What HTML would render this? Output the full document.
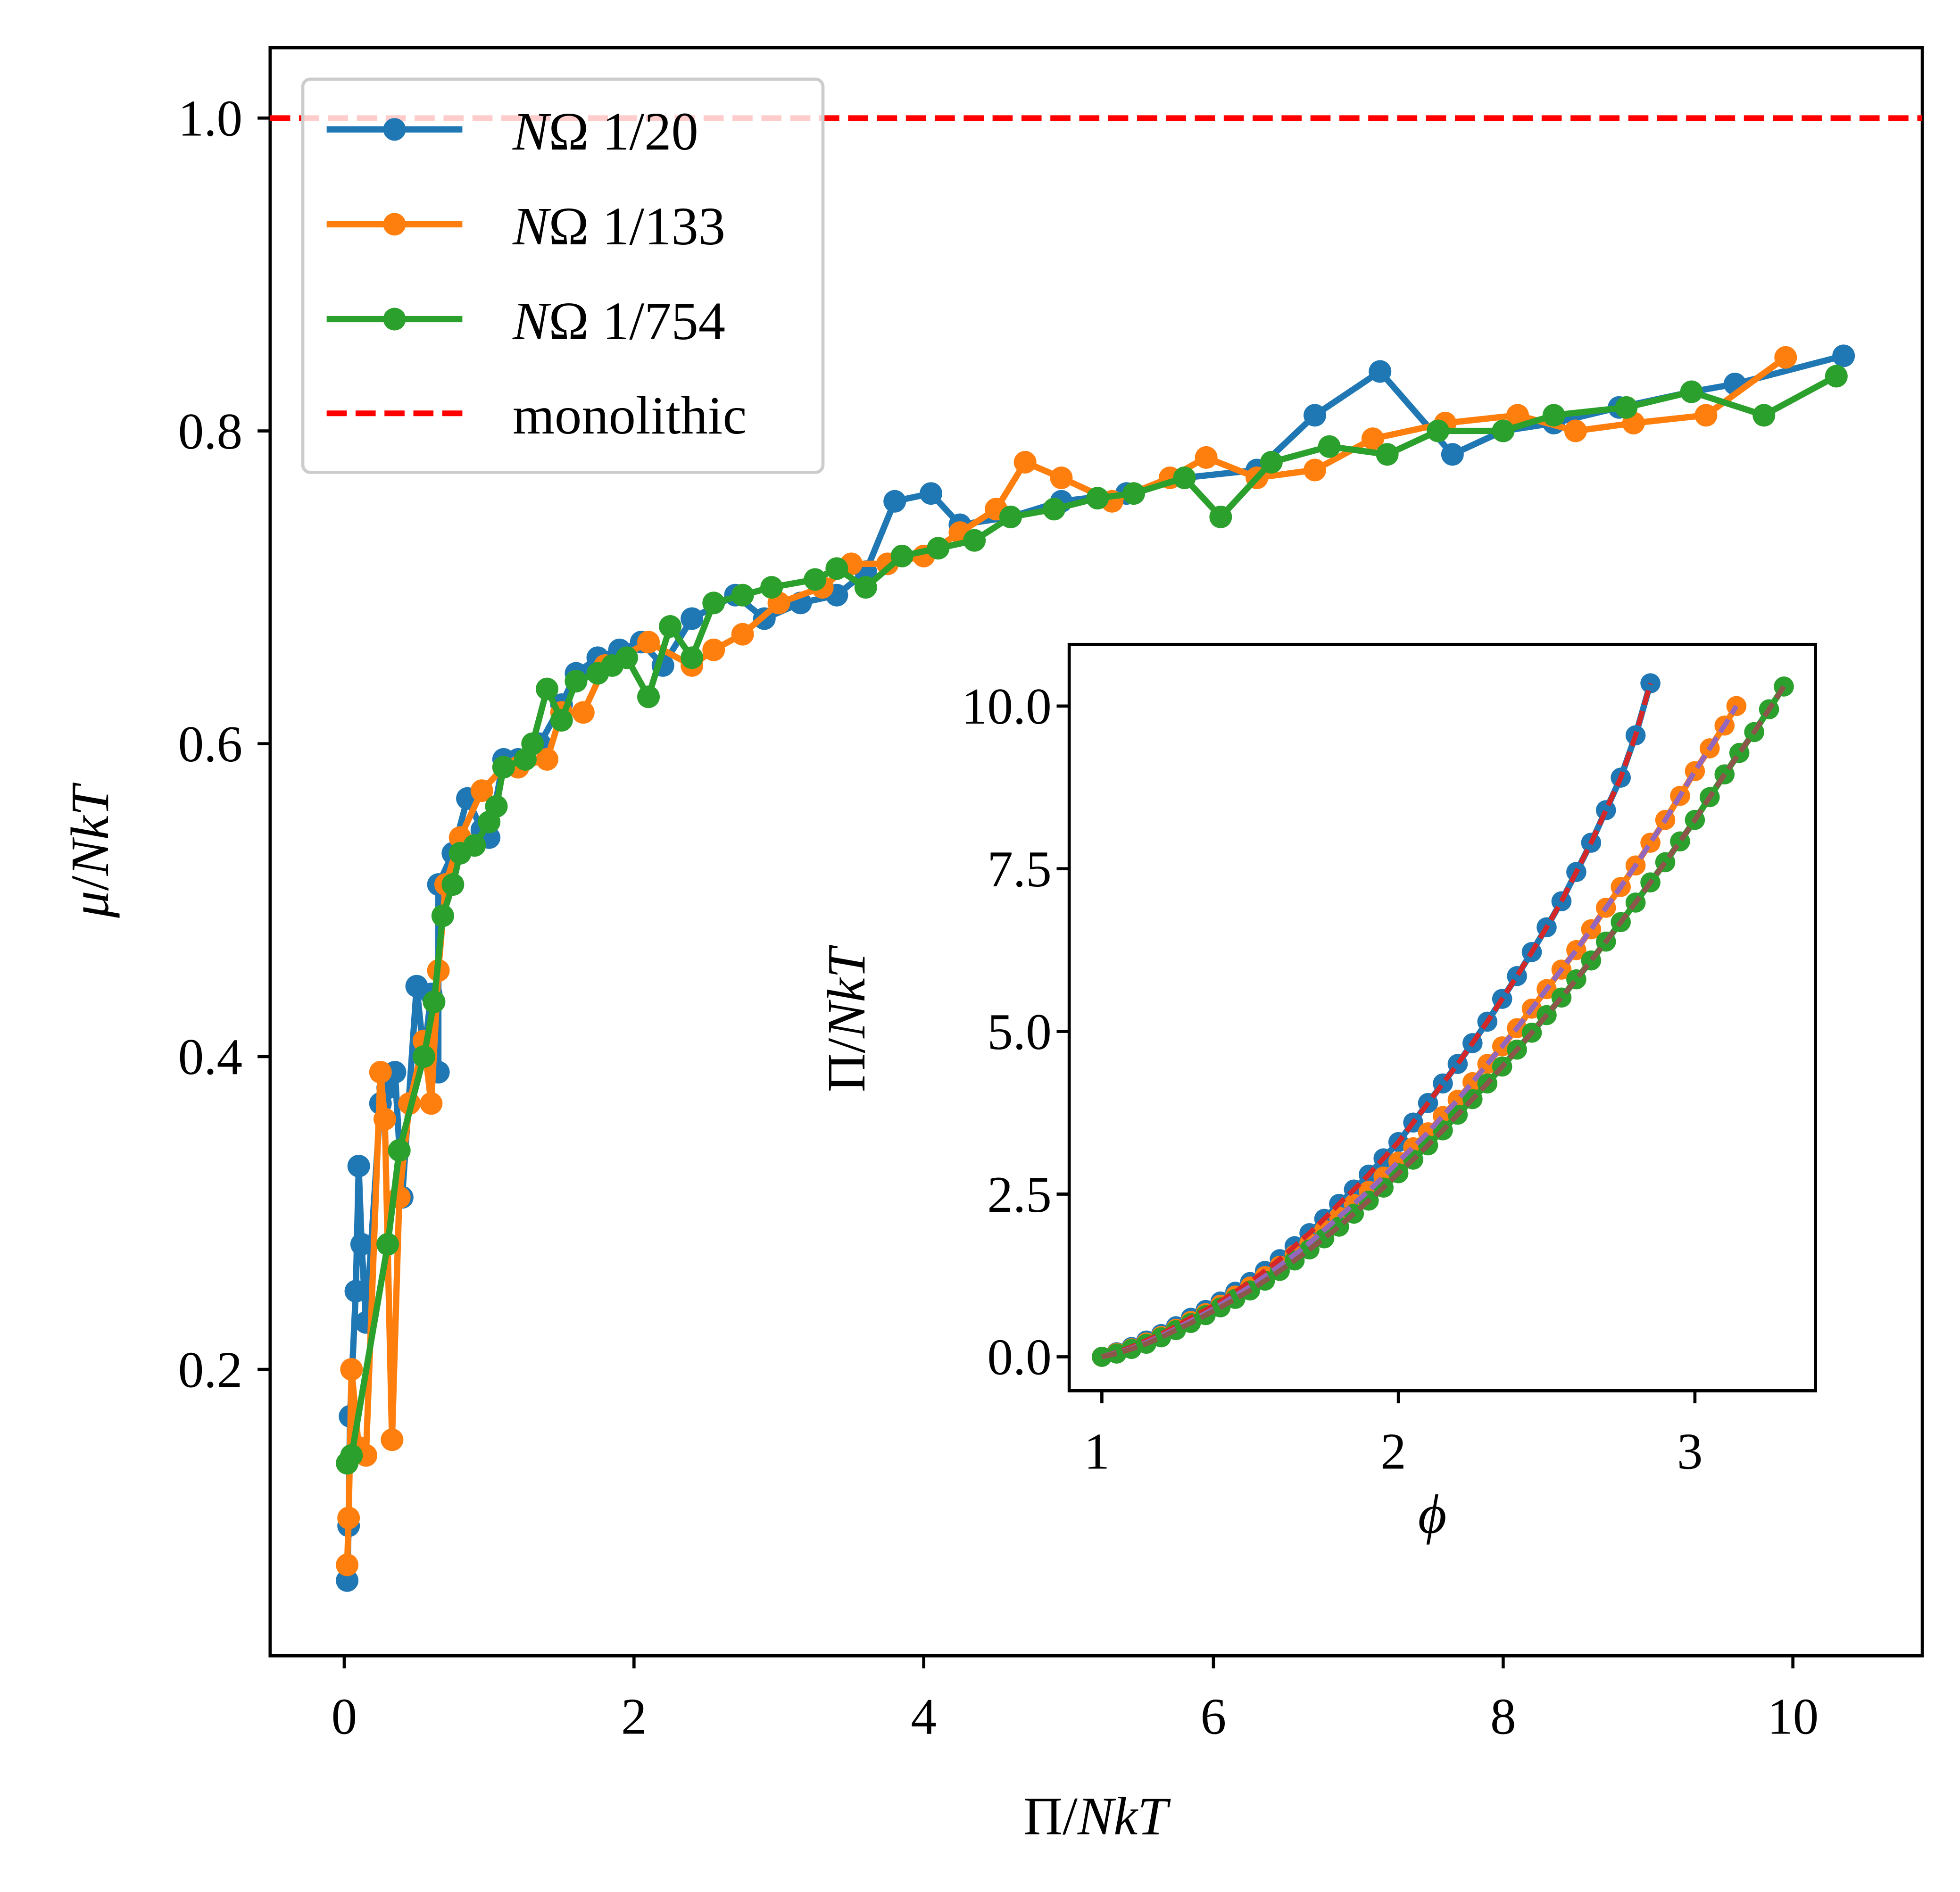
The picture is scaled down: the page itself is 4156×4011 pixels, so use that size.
<!DOCTYPE html>
<html><head><meta charset="utf-8"><style>
html,body{margin:0;padding:0;background:#fff}
svg{display:block}
text{font-family:"Liberation Serif","DejaVu Serif",serif;fill:#000}
</style></head><body>
<svg id="chart" width="4156" height="4011" viewBox="0 0 1560 1506" preserveAspectRatio="none" xmlns="http://www.w3.org/2000/svg">
<rect x="0" y="0" width="1560" height="1506" fill="#fff"/>
<g id="main"></g>
<g id="inset"></g>
<g id="legend"></g>
</svg>
<script>
const xTicks=[0,2,4,6,8,10];
const yTicks=[0.2,0.4,0.6,0.8,1.0];
const yTickLabels=["0.2","0.4","0.6","0.8","1.0"];
const blueX=[0.02,0.03,0.04,0.08,0.1,0.12,0.15,0.25,0.3,0.35,0.4,0.5,0.55,0.6,0.65,0.65,0.75,0.85,0.95,1.0,1.1,1.2,1.35,1.5,1.6,1.75,1.9,2.05,2.2,2.4,2.7,2.9,3.15,3.4,3.6,3.8,4.05,4.25,4.6,4.95,5.4,5.8,6.3,6.7,7.15,7.65,8.0,8.35,8.8,9.3,9.6,10.35];
const blueY=[0.065,0.10,0.17,0.25,0.33,0.28,0.23,0.37,0.38,0.39,0.31,0.445,0.40,0.44,0.39,0.51,0.53,0.565,0.545,0.54,0.59,0.59,0.60,0.625,0.645,0.655,0.66,0.665,0.65,0.68,0.695,0.68,0.69,0.695,0.71,0.755,0.76,0.74,0.745,0.755,0.76,0.77,0.775,0.81,0.838,0.785,0.80,0.805,0.815,0.825,0.83,0.848];
const orangeX=[0.02,0.03,0.05,0.1,0.15,0.25,0.28,0.33,0.38,0.45,0.55,0.6,0.65,0.7,0.8,0.95,1.1,1.2,1.4,1.5,1.65,1.8,2.1,2.4,2.55,2.75,3.0,3.3,3.5,3.75,4.0,4.25,4.5,4.7,4.95,5.3,5.7,5.95,6.3,6.7,7.1,7.6,8.1,8.5,8.9,9.4,9.95];
const orangeY=[0.075,0.105,0.20,0.15,0.145,0.39,0.36,0.155,0.31,0.37,0.41,0.37,0.455,0.51,0.54,0.57,0.585,0.585,0.59,0.62,0.62,0.65,0.665,0.65,0.66,0.67,0.69,0.70,0.715,0.715,0.72,0.735,0.75,0.78,0.77,0.755,0.77,0.783,0.77,0.775,0.795,0.805,0.81,0.80,0.805,0.81,0.847];
const greenX=[0.02,0.05,0.3,0.38,0.55,0.62,0.68,0.75,0.8,0.9,1.0,1.05,1.1,1.25,1.3,1.4,1.5,1.6,1.75,1.85,1.95,2.1,2.25,2.4,2.55,2.75,2.95,3.25,3.4,3.6,3.85,4.1,4.35,4.6,4.9,5.2,5.45,5.8,6.05,6.4,6.8,7.2,7.55,8.0,8.35,8.85,9.3,9.8,10.3];
const greenY=[0.14,0.145,0.28,0.34,0.40,0.435,0.49,0.51,0.53,0.535,0.55,0.56,0.585,0.59,0.60,0.635,0.615,0.64,0.645,0.65,0.655,0.63,0.675,0.655,0.69,0.695,0.70,0.705,0.712,0.70,0.72,0.725,0.73,0.745,0.75,0.757,0.76,0.77,0.745,0.78,0.79,0.785,0.80,0.80,0.81,0.815,0.825,0.81,0.835];

const insetXTicks=[1,2,3];
const insetYTicks=[0,2.5,5,7.5,10];
const insetYTickLabels=["0.0","2.5","5.0","7.5","10.0"];
const inBlueX=[1.0,1.05,1.1,1.15,1.2,1.25,1.3,1.35,1.4,1.45,1.5,1.55,1.6,1.65,1.7,1.75,1.8,1.85,1.9,1.95,2.0,2.05,2.1,2.15,2.2,2.25,2.3,2.35,2.4,2.45,2.5,2.55,2.6,2.65,2.7,2.75,2.8,2.85];
const inBlueY=[0,0.07,0.15,0.25,0.35,0.47,0.6,0.72,0.85,1.0,1.15,1.32,1.5,1.7,1.9,2.12,2.35,2.57,2.8,3.05,3.3,3.6,3.9,4.2,4.5,4.82,5.15,5.5,5.85,6.22,6.6,7.0,7.45,7.9,8.4,8.9,9.55,10.35];
const inOrangeX=[1.0,1.05,1.1,1.15,1.2,1.25,1.3,1.35,1.4,1.45,1.5,1.55,1.6,1.65,1.7,1.75,1.8,1.85,1.9,1.95,2.0,2.05,2.1,2.15,2.2,2.25,2.3,2.35,2.4,2.45,2.5,2.55,2.6,2.65,2.7,2.75,2.8,2.85,2.9,2.95,3.0,3.05,3.1,3.14];
const inOrangeY=[0,0.06,0.13,0.22,0.32,0.43,0.55,0.67,0.8,0.94,1.08,1.24,1.4,1.57,1.75,1.95,2.15,2.35,2.55,2.77,3.0,3.22,3.45,3.7,3.95,4.22,4.5,4.77,5.05,5.35,5.65,5.95,6.25,6.57,6.9,7.22,7.55,7.9,8.25,8.62,9.0,9.35,9.7,10.0];
const inGreenX=[1.0,1.05,1.1,1.15,1.2,1.25,1.3,1.35,1.4,1.45,1.5,1.55,1.6,1.65,1.7,1.75,1.8,1.85,1.9,1.95,2.0,2.05,2.1,2.15,2.2,2.25,2.3,2.35,2.4,2.45,2.5,2.55,2.6,2.65,2.7,2.75,2.8,2.85,2.9,2.95,3.0,3.05,3.1,3.15,3.2,3.25,3.3];
const inGreenY=[0,0.05,0.12,0.2,0.3,0.41,0.52,0.64,0.76,0.89,1.02,1.17,1.32,1.48,1.65,1.82,2.0,2.2,2.4,2.6,2.82,3.03,3.25,3.48,3.72,3.96,4.2,4.46,4.72,4.98,5.25,5.52,5.8,6.09,6.38,6.68,6.98,7.29,7.6,7.92,8.25,8.6,8.95,9.28,9.6,9.95,10.3];

const NS="http://www.w3.org/2000/svg";
function mk(tag,attrs,parent){const e=document.createElementNS(NS,tag);for(const k in attrs)e.setAttribute(k,attrs[k]);parent.appendChild(e);return e;}
const C={blue:"#1f77b4",orange:"#ff7f0e",green:"#2ca02c",red:"#ff0000"};
const FS=41;

const M={l:215,r:1530,t:38,b:1318};
const mx=v=>274+v*115.3, my=v=>94+(1.0-v)*1245;
const main=document.getElementById('main');
let fr=mk('rect',{x:M.l,y:M.t,width:M.r-M.l,height:M.b-M.t,fill:'none',stroke:'#000','stroke-width':2.5},main);

let mono=mk('line',{x1:M.l,x2:M.r,y1:my(1.0),y2:my(1.0),stroke:C.red,'stroke-width':4.5,'stroke-dasharray':'16,7'},main);

xTicks.forEach(v=>{
  const t=mk('line',{x1:mx(v),x2:mx(v),y1:M.b,y2:M.b+10,stroke:'#000','stroke-width':2.5},main);
  
  const l=mk('text',{x:mx(v),y:M.b+62,'text-anchor':'middle','font-size':FS},main);l.textContent=String(v);
  
});
yTicks.forEach((v,i)=>{
  const t=mk('line',{x1:M.l-10,x2:M.l,y1:my(v),y2:my(v),stroke:'#000','stroke-width':2.5},main);
  
  const l=mk('text',{x:M.l-22,y:my(v)+14,'text-anchor':'end','font-size':FS},main);l.textContent=yTickLabels[i];
  
});
let xt=mk('text',{x:872,y:1460,'text-anchor':'middle','font-size':43},main);
xt.innerHTML='Π/<tspan font-style="italic">NkT</tspan>';

let yt=mk('text',{x:0,y:0,'text-anchor':'middle','font-size':43,transform:'translate(86,678) rotate(-90)'},main);
yt.innerHTML='<tspan font-style="italic">μ</tspan>/<tspan font-style="italic">NkT</tspan>';


function series(g,X,Y,fx,fy,col,w,r,name,dash){
  const pts=X.map((x,i)=>fx(x).toFixed(1)+','+fy(Y[i]).toFixed(1)).join(' ');
  const pl=mk('polyline',{points:pts,fill:'none',stroke:col,'stroke-width':w,'stroke-linejoin':'round'},g);
  if(dash)pl.setAttribute('stroke-dasharray',dash);
  
  if(r>0)X.forEach((x,i)=>{const c=mk('circle',{cx:fx(x),cy:fy(Y[i]),r:r,fill:col},g);
    });
}
series(main,blueX,blueY,mx,my,C.blue,5,9,'series-1-20');
series(main,orangeX,orangeY,mx,my,C.orange,5,9,'series-1-133');
series(main,greenX,greenY,mx,my,C.green,5,9,'series-1-754');

const I={l:851,r:1445,t:513,b:1107};
const ix=v=>877+(v-1)*236, iy=v=>1080-v*51.8;
const inset=document.getElementById('inset');
let ib=mk('rect',{x:I.l,y:I.t,width:I.r-I.l,height:I.b-I.t,fill:'#fff',stroke:'#000','stroke-width':2.5},inset);

insetXTicks.forEach(v=>{
  const t=mk('line',{x1:ix(v),x2:ix(v),y1:I.b,y2:I.b+10,stroke:'#000','stroke-width':2.5},inset);
  
  const l=mk('text',{x:ix(v)-4,y:I.b+62,'text-anchor':'middle','font-size':FS},inset);l.textContent=String(v);
  
});
insetYTicks.forEach((v,i)=>{
  const t=mk('line',{x1:I.l-10,x2:I.l,y1:iy(v),y2:iy(v),stroke:'#000','stroke-width':2.5},inset);
  
  const l=mk('text',{x:I.l-14,y:iy(v)+14,'text-anchor':'end','font-size':FS},inset);l.textContent=insetYTickLabels[i];
  
});
let ixt=mk('text',{x:1140,y:1220,'text-anchor':'middle','font-size':44,'font-style':'italic'},inset);ixt.textContent='ϕ';

let iyt=mk('text',{x:0,y:0,'text-anchor':'middle','font-size':43,transform:'translate(688,812) rotate(-90)'},inset);
iyt.innerHTML='Π/<tspan font-style="italic">NkT</tspan>';

series(inset,inBlueX,inBlueY,ix,iy,C.blue,5,8,'inset-series-1-20');
series(inset,inOrangeX,inOrangeY,ix,iy,C.orange,5,8,'inset-series-1-133');
series(inset,inGreenX,inGreenY,ix,iy,C.green,5,8,'inset-series-1-754');
series(inset,inBlueX,inBlueY,ix,iy,'#d62728',4,0,'inset-fit-1-20','12,5');
series(inset,inOrangeX,inOrangeY,ix,iy,'#9467bd',4,0,'inset-fit-1-133','12,5');
series(inset,inGreenX,inGreenY,ix,iy,'#8c564b',4,0,'inset-fit-1-754','12,5');

const leg=document.getElementById('legend');
let lb=mk('rect',{x:241,y:63,width:414,height:313,rx:6,fill:'#fff','fill-opacity':0.8,stroke:'#ccc','stroke-width':2.5},leg);

const legendLabels=['1/20','1/133','1/754'];
const legendCols=[C.blue,C.orange,C.green];
legendLabels.forEach((t,i)=>{
  const y=103+i*75.5;
  const ln=mk('line',{x1:260,x2:368,y1:y,y2:y,stroke:legendCols[i],'stroke-width':5},leg);
  
  const c=mk('circle',{cx:314,cy:y,r:9,fill:legendCols[i]},leg);
  
  const tx=mk('text',{x:408,y:y+16,'font-size':43},leg);
  tx.innerHTML='<tspan font-style="italic">N</tspan>Ω 1/'+t.slice(2);
  
});
let ml=mk('line',{x1:260,x2:368,y1:329,y2:329,stroke:C.red,'stroke-width':4.5,'stroke-dasharray':'16,7'},leg);

let mt=mk('text',{x:408,y:345,'font-size':43},leg);mt.textContent='monolithic';

</script>
</body></html>
